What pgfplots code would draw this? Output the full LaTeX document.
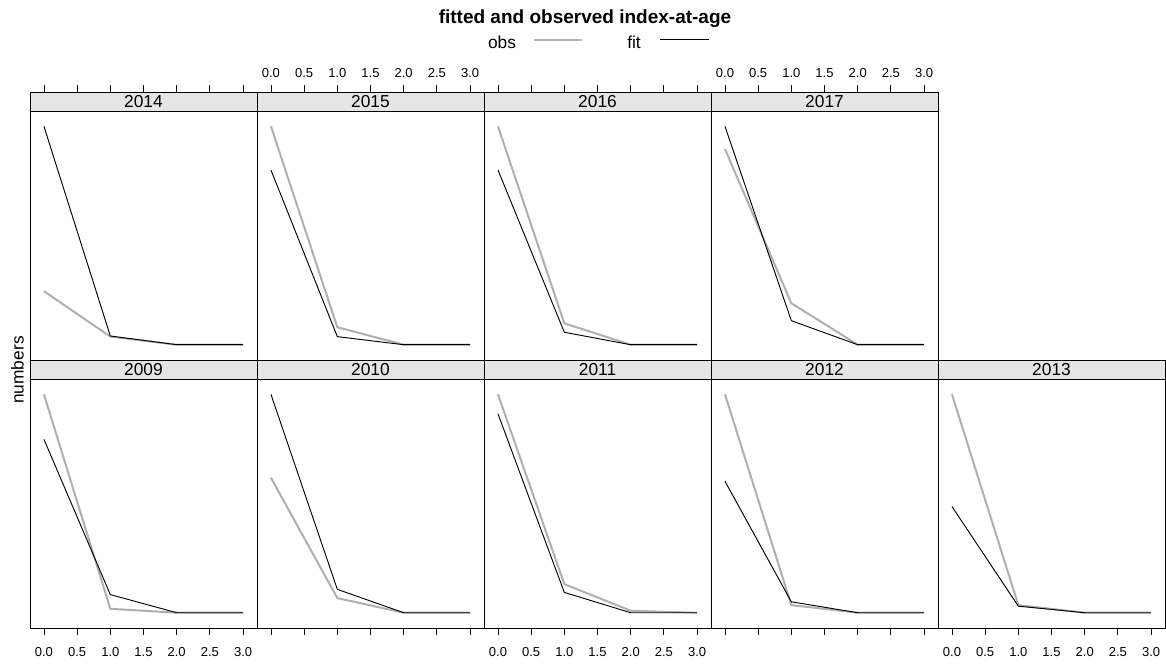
\documentclass[border=0pt]{standalone}
\usepackage{fontspec}
\setmainfont{Liberation Sans}
\usepackage{pgfplots}
\pgfplotsset{compat=1.18}

\definecolor{stripbg}{HTML}{E5E5E5}
\definecolor{obsgray}{HTML}{AFAFAF}

\pgfplotsset{
  panel/.style={
    scale only axis,
    width=170.25pt, height=201pt,
    anchor=north west,
    xmin=-0.21, xmax=3.21,
    ymin=-0.07, ymax=1.157,
    axis on top,
    clip=false,
    axis line style={line width=0.6pt},
    ytick=\empty,
    xtick={0,0.5,1,1.5,2,2.5,3},
    tick align=outside,
    major tick length=5.25pt,
    tick style={black, line width=0.6pt},
    xticklabel style={font=\fontsize{9.75}{11}\selectfont, inner sep=1pt,
      /pgf/number format/fixed,
      /pgf/number format/fixed zerofill,
      /pgf/number format/precision=1,
      /pgf/number format/assume math mode=true},
  },
  toprow/.style={xtick pos=top, xticklabel pos=top,
    xticklabel style={yshift=4.5pt}},
  bottomrow/.style={xtick pos=bottom, xticklabel pos=bottom,
    xticklabel style={yshift=-8pt}},
  nolabels/.style={xticklabels={}},
  obs/.style={obsgray, line width=1.5pt, line join=round},
  fit/.style={black, line width=0.7pt, line join=round},
}

% shaded strip at the top of each panel, carrying the year
\newcommand{\strip}[1]{%
  \fill[stripbg] (axis cs:-0.21,1.07) rectangle (axis cs:3.21,1.157);
  \draw[line width=0.6pt] (axis cs:-0.21,1.07) -- (axis cs:3.21,1.07);
  \node[font=\fontsize{13}{15}\selectfont] at (axis cs:1.5,1.1135) {#1};%
}

\begin{document}
\begin{tikzpicture}
\useasboundingbox (0,0) rectangle (874.5pt,-498pt);

% ---------------- top row ----------------
\begin{axis}[panel, toprow, nolabels, at={(22.5pt,-69pt)}]
  \strip{2014}
  \addplot[obs] coordinates {(0,0.245) (1,0.037) (2,0) (3,0)};
  \addplot[fit] coordinates {(0,1) (1,0.040) (2,0) (3,0)};
\end{axis}
\begin{axis}[panel, toprow, at={(192.75pt,-69pt)}]
  \strip{2015}
  \addplot[obs] coordinates {(0,1) (1,0.080) (2,0) (3,0)};
  \addplot[fit] coordinates {(0,0.800) (1,0.037) (2,0) (3,0)};
\end{axis}
\begin{axis}[panel, toprow, nolabels, at={(363pt,-69pt)}]
  \strip{2016}
  \addplot[obs] coordinates {(0,1) (1,0.098) (2,0) (3,0)};
  \addplot[fit] coordinates {(0,0.800) (1,0.057) (2,0) (3,0)};
\end{axis}
\begin{axis}[panel, toprow, at={(533.25pt,-69pt)}]
  \strip{2017}
  \addplot[obs] coordinates {(0,0.896) (1,0.190) (2,0) (3,0)};
  \addplot[fit] coordinates {(0,1) (1,0.110) (2,0) (3,0)};
\end{axis}

% ---------------- bottom row ----------------
\begin{axis}[panel, bottomrow, at={(22.5pt,-270pt)}]
  \strip{2009}
  \addplot[obs] coordinates {(0,1) (1,0.018) (2,0) (3,0)};
  \addplot[fit] coordinates {(0,0.794) (1,0.083) (2,0) (3,0)};
\end{axis}
\begin{axis}[panel, bottomrow, nolabels, at={(192.75pt,-270pt)}]
  \strip{2010}
  \addplot[obs] coordinates {(0,0.618) (1,0.067) (2,0) (3,0)};
  \addplot[fit] coordinates {(0,1) (1,0.107) (2,0) (3,0)};
\end{axis}
\begin{axis}[panel, bottomrow, at={(363pt,-270pt)}]
  \strip{2011}
  \addplot[obs] coordinates {(0,1) (1,0.131) (2,0.009) (3,0)};
  \addplot[fit] coordinates {(0,0.911) (1,0.093) (2,0) (3,0)};
\end{axis}
\begin{axis}[panel, bottomrow, nolabels, at={(533.25pt,-270pt)}]
  \strip{2012}
  \addplot[obs] coordinates {(0,1) (1,0.035) (2,0) (3,0)};
  \addplot[fit] coordinates {(0,0.602) (1,0.050) (2,0) (3,0)};
\end{axis}
\begin{axis}[panel, bottomrow, at={(703.5pt,-270pt)}]
  \strip{2013}
  \addplot[obs] coordinates {(0,1) (1,0.035) (2,0) (3,0)};
  \addplot[fit] coordinates {(0,0.486) (1,0.030) (2,0) (3,0)};
\end{axis}

% title, key and y label
\begin{scope}[x=0.75pt, y=-0.75pt]
  \node[anchor=base, font=\bfseries\fontsize{14.25}{16}\selectfont] at (585,23) {fitted and observed index-at-age};
  \node[anchor=base, font=\fontsize{13}{15}\selectfont] at (502,48) {obs};
  \draw[obsgray, line width=1.5pt] (534,39.5) -- (582,39.5);
  \node[anchor=base, font=\fontsize{13}{15}\selectfont] at (634,48) {fit};
  \draw[black, line width=0.75pt] (660,39.5) -- (709,39.5);
  \node[rotate=90, font=\fontsize{13}{15}\selectfont] at (17.5,370) {numbers};
\end{scope}
\end{tikzpicture}
\end{document}
